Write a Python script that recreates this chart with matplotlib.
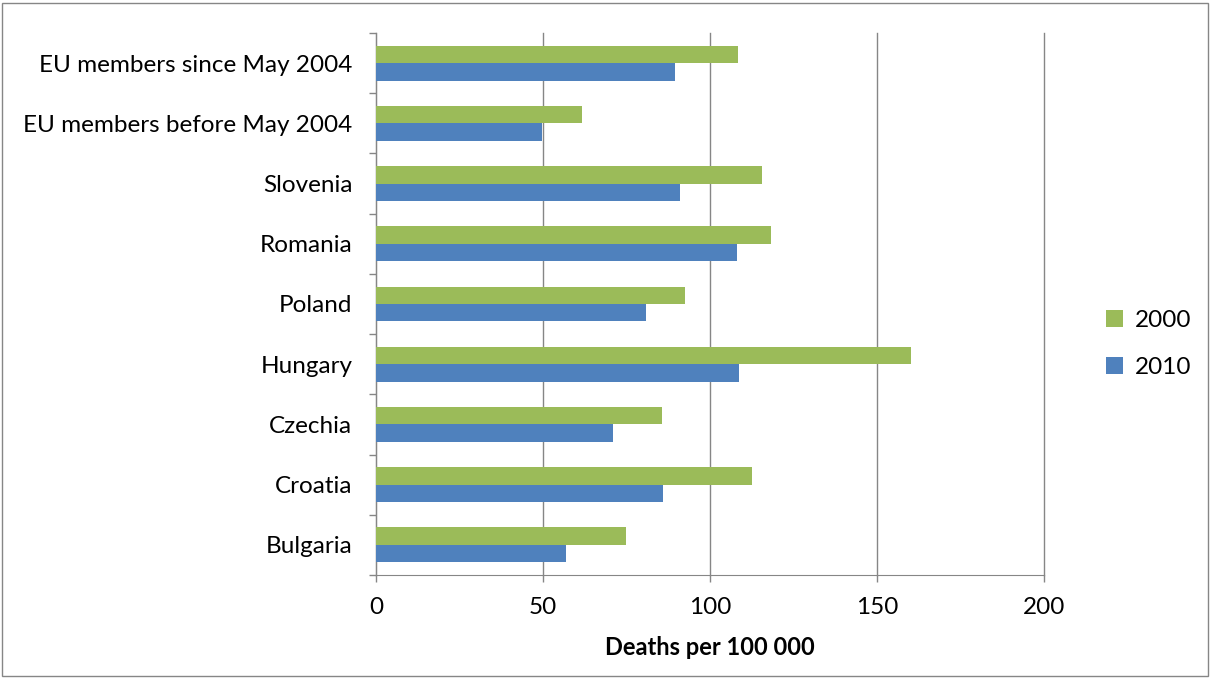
import numpy as np
import matplotlib.pyplot as plt
from matplotlib.patches import Rectangle

# категории снизу вверх
countries = ['Bulgaria', 'Croatia', 'Czechia', 'Hungary', 'Poland', 'Romania',
             'Slovenia', 'EU members before May 2004', 'EU members since May 2004']
vals_2000 = [75.0, 112.7, 85.6, 160.1, 92.5, 118.3, 115.6, 61.8, 108.3]
vals_2010 = [57.0, 86.0, 71.1, 108.6, 80.8, 108.0, 91.0, 49.8, 89.5]
xticks = [0, 50, 100, 150, 200]

plt.rcParams['font.family'] = ['Lato', 'DejaVu Sans']

fig = plt.figure(figsize=(12.12, 6.79), dpi=100)
ax = fig.add_axes([0.3102, 0.1532, 0.5512, 0.7982])

y = np.arange(len(countries))
h = 0.29
ax.barh(y + h/2, vals_2000, height=h, color='#9BBB59', label='2000', zorder=3)
ax.barh(y - h/2, vals_2010, height=h, color='#4F81BD', label='2010', zorder=3)

ax.set_xlim(0, 200)
ax.set_ylim(-0.5, len(countries) - 0.5)
ax.set_xticks(xticks)
ax.set_yticks(y)
ax.set_yticklabels(countries)
ax.set_yticks(np.arange(len(countries) + 1) - 0.5, minor=True)
ax.tick_params(axis='y', which='major', length=0, pad=17, labelsize=17.5, colors='#000000')
ax.tick_params(axis='y', which='minor', length=5, width=1, color='#868686')
ax.tick_params(axis='x', length=5, width=1, color='#868686', pad=11, labelsize=17.5)

ax.grid(axis='x', color='#868686', linewidth=1, zorder=0)
for gl in ax.get_xgridlines():
    gl.set_clip_on(False)
for s in ['top', 'right']:
    ax.spines[s].set_visible(False)
for s in ['left', 'bottom']:
    ax.spines[s].set_color('#868686')

ax.set_xlabel('Deaths per 100 000', fontsize=17, fontweight='bold', labelpad=13)

ax.legend(loc='center left', bbox_to_anchor=(1.06, 0.426), frameon=False, fontsize=17.5,
          handlelength=0.7, handleheight=0.7, handletextpad=0.5, labelspacing=1.05)

fig.patches.append(Rectangle((0.002, 0.004), 0.995, 0.992, transform=fig.transFigure,
                             fill=False, edgecolor='#868686', linewidth=1))

plt.savefig('out.png', dpi=100)
